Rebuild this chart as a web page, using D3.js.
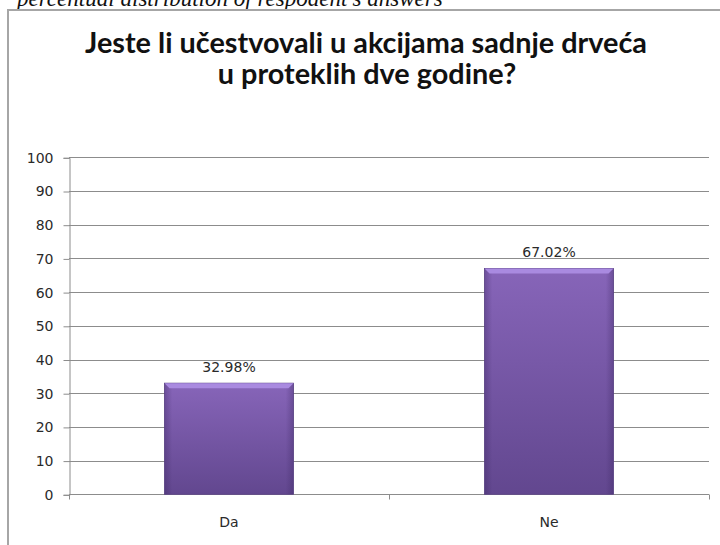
<!DOCTYPE html>
<html><head><meta charset="utf-8">
<script src="https://cdn.jsdelivr.net/npm/d3@7"></script>
<style>html,body{margin:0;padding:0;background:#fff;overflow:hidden}</style>
</head><body>
<svg id="c" width="720" height="545"></svg>
<script>
const categories = ["Da", "Ne"];
const values = [32.98, 67.02];
const valueLabels = ["32.98%", "67.02%"];
const yTicks = [0, 10, 20, 30, 40, 50, 60, 70, 80, 90, 100];
const titleLines = ["Jeste li učestvovali u akcijama sadnje drveća", "u proteklih dve godine?"];
const caption = "percentual distribution of respodent's answers";

const svg = d3.select("#c");
const W = 720, H = 545;
const plot = {left: 69, right: 709, top: 157.3, bottom: 494.3};
const labelFont = "Verdana, 'DejaVu Sans', sans-serif";

const defs = svg.append("defs");
const g1 = defs.append("linearGradient").attr("id", "barV").attr("x1", 0).attr("y1", 0).attr("x2", 0).attr("y2", 1);
g1.append("stop").attr("offset", "0%").attr("stop-color", "#8765b9");
g1.append("stop").attr("offset", "100%").attr("stop-color", "#62478f");
const g2 = defs.append("linearGradient").attr("id", "barH").attr("x1", 0).attr("y1", 0).attr("x2", 1).attr("y2", 0);
g2.append("stop").attr("offset", "0%").attr("stop-color", "#3a2560").attr("stop-opacity", 0.35);
g2.append("stop").attr("offset", "6%").attr("stop-color", "#3a2560").attr("stop-opacity", 0);
g2.append("stop").attr("offset", "94%").attr("stop-color", "#3a2560").attr("stop-opacity", 0);
g2.append("stop").attr("offset", "100%").attr("stop-color", "#3a2560").attr("stop-opacity", 0.35);

// caption (cut off at top, as in the reference)
const cap = svg.append("text").attr("x", 17).attr("y", 6)
  .attr("font-family", "'Liberation Serif', 'DejaVu Serif', serif").attr("font-style", "italic")
  .attr("font-size", 20).attr("fill", "#111").text(caption);
const capW = cap.node().getComputedTextLength();
cap.attr("font-size", 20 * 426 / capW);

// frame
svg.append("rect").attr("x", 8).attr("y", 10).attr("width", W).attr("height", H)
  .attr("fill", "#fff").attr("stroke", "#a6a6a6").attr("stroke-width", 2);

// title
const tl = svg.append("g");
const t1 = tl.append("text").attr("x", 366).attr("y", 53).attr("text-anchor", "middle")
  .attr("font-family", "Lato").attr("font-weight", "bold").attr("font-size", 27)
  .attr("fill", "#111").text(titleLines[0]);
const w1 = t1.node().getComputedTextLength();
const fs = 27 * 562 / w1;
t1.attr("font-size", fs);
tl.append("text").attr("x", 367).attr("y", 84).attr("text-anchor", "middle")
  .attr("font-family", "Lato").attr("font-weight", "bold").attr("font-size", fs)
  .attr("fill", "#111").text(titleLines[1]);

const x = d3.scaleBand().domain(categories).range([plot.left, plot.right]).padding(0);
const y = d3.scaleLinear().domain([0, 100]).range([plot.bottom, plot.top]);

// gridlines
svg.append("g").selectAll("line").data(yTicks.filter(d => d > 0)).join("line")
  .attr("x1", plot.left).attr("x2", plot.right)
  .attr("y1", d => Math.round(y(d)) + 0.5).attr("y2", d => Math.round(y(d)) + 0.5)
  .attr("stroke", "#8c8c8c").attr("stroke-width", 1);

// y axis
const yAxis = d3.axisLeft(y).tickValues(yTicks).tickSize(6).tickPadding(10).tickFormat(d3.format("d"));
const ya = svg.append("g").attr("transform", `translate(${plot.left + 0.5},0.5)`).call(yAxis);
ya.selectAll("path,line").attr("stroke", "#8c8c8c");
ya.selectAll("text").attr("font-family", labelFont).attr("font-size", 14).attr("fill", "#2a2a2a");

// x axis
const xa = svg.append("g").attr("transform", `translate(0,${Math.round(plot.bottom) + 0.5})`);
xa.append("line").attr("x1", plot.left).attr("x2", plot.right).attr("stroke", "#8c8c8c");
const bounds = [plot.left, ...categories.map(c => x(c) + x.bandwidth())];
xa.selectAll("line.tk").data(bounds).join("line").attr("class", "tk")
  .attr("x1", d => Math.round(d) + 0.5).attr("x2", d => Math.round(d) + 0.5)
  .attr("y1", 0).attr("y2", 5).attr("stroke", "#8c8c8c");
xa.selectAll("text").data(categories).join("text")
  .attr("x", d => x(d) + x.bandwidth() / 2).attr("y", 32).attr("text-anchor", "middle")
  .attr("font-family", labelFont).attr("font-size", 14).attr("fill", "#2a2a2a").text(d => d);

// bars
const bw = x.bandwidth() * 0.403;
const bars = svg.append("g").selectAll("g").data(categories).join("g");
bars.append("rect")
  .attr("x", d => x(d) + (x.bandwidth() - bw) / 2).attr("width", bw)
  .attr("y", (d, i) => y(values[i])).attr("height", (d, i) => y(0) - y(values[i]))
  .attr("fill", "url(#barV)").attr("stroke", "#5a4285").attr("stroke-width", 0.8);
bars.append("rect")
  .attr("x", d => x(d) + (x.bandwidth() - bw) / 2).attr("width", bw)
  .attr("y", (d, i) => y(values[i])).attr("height", (d, i) => y(0) - y(values[i]))
  .attr("fill", "url(#barH)");
// top bevel
bars.append("path")
  .attr("d", (d, i) => {
    const x0 = x(d) + (x.bandwidth() - bw) / 2, x1 = x0 + bw, yt = y(values[i]);
    return `M${x0},${yt}L${x1},${yt}L${x1 - 5},${yt + 5}L${x0 + 5},${yt + 5}Z`;
  })
  .attr("fill", "#a98ae0");
// value labels
bars.append("text")
  .attr("x", d => x(d) + x.bandwidth() / 2).attr("y", (d, i) => y(values[i]) - 11)
  .attr("text-anchor", "middle").attr("font-family", labelFont).attr("font-size", 14)
  .attr("fill", "#2a2a2a").text((d, i) => valueLabels[i]);
</script>
</body></html>
